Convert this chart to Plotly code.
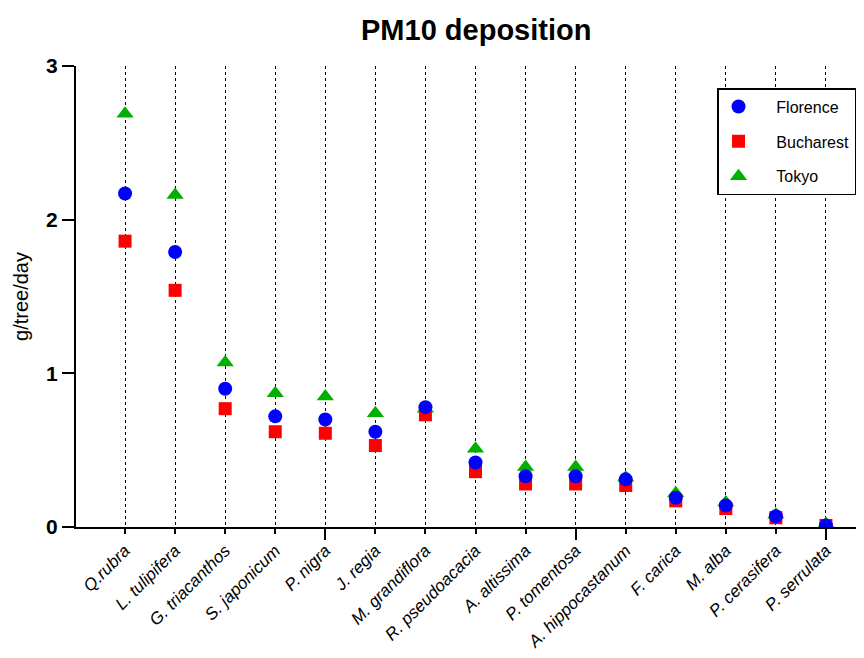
import plotly.graph_objects as go

species = ["Q.rubra", "L. tulipifera", "G. triacanthos", "S. japonicum", "P. nigra",
           "J. regia", "M. grandiflora", "R. pseudoacacia", "A. altissima", "P. tomentosa",
           "A. hippocastanum", "F. carica", "M. alba", "P. cerasifera", "P. serrulata"]
florence = [2.17, 1.79, 0.90, 0.72, 0.70, 0.62, 0.78, 0.42, 0.33, 0.33, 0.31, 0.19, 0.14, 0.07, 0.01]
bucharest = [1.86, 1.54, 0.77, 0.62, 0.61, 0.53, 0.73, 0.36, 0.28, 0.28, 0.27, 0.17, 0.12, 0.06, 0.01]
tokyo = [2.69, 2.16, 1.07, 0.87, 0.85, 0.74, 0.77, 0.51, 0.39, 0.39, 0.32, 0.22, 0.16, 0.08, 0.02]
series_names = ["Florence", "Bucharest", "Tokyo"]
y_ticks = [0, 1, 2, 3]

x = list(range(len(species)))
font_family = "Liberation Sans, Arial, sans-serif"
pad = "\u00a0\u00a0\u00a0\u00a0"

fig = go.Figure()
fig.add_trace(go.Scatter(x=x, y=tokyo, mode="markers", name=pad + series_names[2], legendrank=3, legendgroup="t",
                         marker=dict(symbol="triangle-up", size=15, color="#00b000")))
fig.add_trace(go.Scatter(x=x, y=bucharest, mode="markers", name=pad + series_names[1], legendrank=2, legendgroup="b",
                         marker=dict(symbol="square", size=13, color="#ff0000")))
fig.add_trace(go.Scatter(x=x, y=florence, mode="markers", name=pad + series_names[0], legendrank=1, legendgroup="f",
                         marker=dict(symbol="circle", size=14, color="#0000ff")))
# overlay axis for the longer ticks
fig.add_trace(go.Scatter(x=[None], y=[None], xaxis="x2", showlegend=False, hoverinfo="skip"))

xr = [-0.98, 14.76]
fig.update_layout(
    width=856, height=650,
    paper_bgcolor="white", plot_bgcolor="white",
    margin=dict(l=68, r=0, t=58, b=131),
    font=dict(family=font_family, color="black"),
    title=dict(text="<b>PM10 deposition</b>", x=0.547, xanchor="center", y=0.966, yanchor="middle",
               font=dict(size=29, family=font_family, color="black")),
    showlegend=True,
    legend=dict(x=0.8135, y=0.952, xanchor="left", yanchor="top",
                bordercolor="black", borderwidth=1.5, bgcolor="white",
                font=dict(size=16, family=font_family), itemsizing="trace",
                tracegroupgap=11),
    xaxis=dict(range=xr, tickmode="array", tickvals=x, ticktext=species,
               tickangle=-45, tickfont=dict(size=17, style="italic", family=font_family),
               ticks="outside", ticklen=5, tickwidth=1.5, tickcolor="black",
               showline=True, linecolor="black", linewidth=2,
               showgrid=True, gridcolor="black", griddash="dot", gridwidth=1,
               zeroline=False),
    xaxis2=dict(range=xr, overlaying="x", tickmode="array", tickvals=[4, 9, 14],
                showticklabels=False, ticks="outside", ticklen=12, tickwidth=2,
                tickcolor="black", showgrid=False, zeroline=False, showline=False),
    yaxis=dict(range=[0, 3], tickmode="array", tickvals=y_ticks,
               tickfont=dict(size=21, family=font_family, weight="bold"),
               ticks="outside", ticklen=12, tickwidth=2, tickcolor="black",
               showline=True, linecolor="black", linewidth=2,
               showgrid=False, zeroline=False,
               title=dict(text="g/tree/day", font=dict(size=20, family=font_family), standoff=12)),
)

fig.write_html("out.html")
